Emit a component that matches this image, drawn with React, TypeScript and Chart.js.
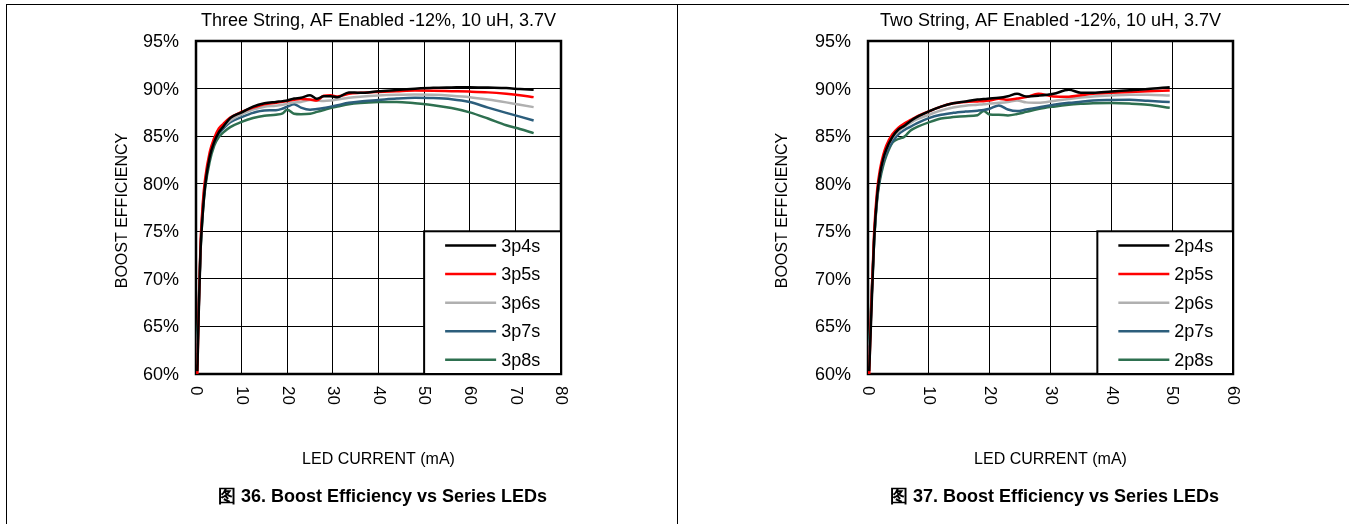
import React, { useEffect, useRef } from "react";
import { Chart, registerables } from "chart.js";
Chart.register(...registerables);

// ---------- data ----------
const threeStringCurrent = [0.3, 0.6, 1, 1.5, 2, 3, 4, 5, 6, 7.5, 10, 12.5, 15, 17.5, 19, 20, 21.5, 23, 25, 26.5, 28, 29.5, 31, 33.5, 36, 40, 44, 48, 52, 56, 60, 64, 68, 71, 74];
const eff3p4s = [60.3, 66.5, 73, 77, 79.8, 82.8, 84.4, 85.4, 86.0, 86.9, 87.5, 88.1, 88.45, 88.6, 88.68, 88.75, 88.95, 89.03, 89.3, 88.93, 89.2, 89.2, 89.1, 89.6, 89.55, 89.72, 89.85, 89.98, 90.08, 90.12, 90.15, 90.1, 90.05, 89.95, 89.87];
const eff3p5s = [60, 67, 73.8, 78, 80.5, 83.3, 84.8, 85.8, 86.3, 86.95, 87.55, 88.0, 88.35, 88.5, 88.6, 88.7, 88.82, 88.9, 88.85, 88.75, 89.25, 89.3, 89.17, 89.45, 89.55, 89.65, 89.73, 89.8, 89.78, 89.73, 89.68, 89.6, 89.45, 89.3, 89.1];
const eff3p6s = [61, 66.5, 73.5, 77.8, 80.3, 83.0, 84.6, 85.5, 86.0, 86.65, 87.3, 87.8, 88.1, 88.2, 88.3, 88.4, 88.55, 88.6, 88.8, 88.75, 88.7, 88.75, 88.85, 89.03, 89.15, 89.28, 89.35, 89.38, 89.35, 89.25, 89.1, 88.85, 88.55, 88.3, 88.05];
const eff3p7s = [62.2, 67, 73.3, 77.5, 80, 82.8, 84.4, 85.3, 85.8, 86.47, 87.0, 87.45, 87.7, 87.72, 87.9, 88.1, 88.35, 88.0, 87.78, 87.85, 87.95, 88.1, 88.25, 88.5, 88.65, 88.8, 88.95, 89.03, 89.0, 88.88, 88.58, 88.0, 87.45, 87.05, 86.65];
const eff3p8s = [63.2, 67.5, 73, 77, 79.5, 82.3, 84.0, 84.9, 85.4, 85.95, 86.5, 86.9, 87.15, 87.25, 87.4, 87.77, 87.35, 87.3, 87.35, 87.55, 87.75, 87.95, 88.1, 88.35, 88.48, 88.58, 88.6, 88.45, 88.25, 87.95, 87.5, 86.85, 86.15, 85.75, 85.32];
const threeStringLabels = ["3p4s", "3p5s", "3p6s", "3p7s", "3p8s"];

const twoStringCurrent = [0.2, 0.5, 1, 1.5, 2, 2.5, 3, 4, 5, 6, 7, 8, 10, 12, 14, 16, 18, 19, 20, 21.5, 23, 24.5, 26, 28, 30.5, 33, 35, 37, 40, 43, 46, 49.6];
const eff2p4s = [60.3, 65.5, 74, 78.7, 81.1, 82.6, 83.6, 84.9, 85.7, 86.1, 86.6, 87.0, 87.6, 88.1, 88.45, 88.65, 88.85, 88.9, 88.95, 89.03, 89.2, 89.45, 89.17, 89.25, 89.45, 89.87, 89.56, 89.56, 89.7, 89.82, 89.95, 90.15];
const eff2p5s = [60, 66.5, 74.8, 79.3, 81.6, 83.0, 84.0, 85.2, 85.9, 86.35, 86.7, 87.05, 87.6, 88.1, 88.45, 88.6, 88.65, 88.68, 88.75, 88.93, 88.82, 88.95, 89.1, 89.45, 89.17, 89.15, 89.3, 89.45, 89.55, 89.65, 89.72, 89.8];
const eff2p6s = [60.8, 66, 74.3, 78.8, 81.2, 82.6, 83.6, 84.8, 85.5, 86.0, 86.4, 86.75, 87.25, 87.7, 88.0, 88.2, 88.3, 88.35, 88.42, 88.5, 88.6, 88.75, 88.55, 88.5, 88.7, 88.9, 89.05, 89.17, 89.28, 89.36, 89.35, 89.28];
const eff2p7s = [62, 66.5, 74, 78.5, 80.8, 82.2, 83.2, 84.4, 85.2, 85.65, 86.0, 86.35, 86.9, 87.25, 87.45, 87.58, 87.68, 87.75, 87.88, 88.23, 87.8, 87.63, 87.8, 88.02, 88.3, 88.5, 88.62, 88.75, 88.8, 88.82, 88.72, 88.58];
const eff2p8s = [63, 67, 73.8, 78.3, 80.5, 81.9, 82.9, 84.3, 84.7, 84.95, 85.6, 85.95, 86.45, 86.85, 87.0, 87.1, 87.2, 87.63, 87.28, 87.25, 87.18, 87.32, 87.55, 87.85, 88.1, 88.3, 88.4, 88.47, 88.48, 88.42, 88.3, 87.98];
const twoStringLabels = ["2p4s", "2p5s", "2p6s", "2p7s", "2p8s"];

const yTickValues = [60, 65, 70, 75, 80, 85, 90, 95];
const yTickLabels = ["60%", "65%", "70%", "75%", "80%", "85%", "90%", "95%"];
const xTicksThree = [0, 10, 20, 30, 40, 50, 60, 70, 80];
const xTicksTwo = [0, 10, 20, 30, 40, 50, 60];

const seriesColors = ["#000000", "#FF0000", "#B0B0B0", "#2C5E7C", "#2E7050"];

const FONT = '"Liberation Sans", Arial, Helvetica, sans-serif';

type Panel = {
  title: string;
  caption: string;
  x: number[];
  series: number[][];
  labels: string[];
  xTicks: number[];
  xMax: number;
  legendFrom: number;
  canvasLeft: number;
  canvasWidth: number;
  padLeft: number;
  padRight: number;
  yTitleX: number;
};

const panels: Panel[] = [
  {
    title: "Three String, AF Enabled -12%, 10 uH, 3.7V",
    caption: "图 36. Boost Efficiency vs Series LEDs",
    x: threeStringCurrent,
    series: [eff3p4s, eff3p5s, eff3p6s, eff3p7s, eff3p8s],
    labels: threeStringLabels,
    xTicks: xTicksThree,
    xMax: 80,
    legendFrom: 50,
    canvasLeft: 0,
    canvasWidth: 677,
    padLeft: 196,
    padRight: 116,
    yTitleX: 123,
  },
  {
    title: "Two String, AF Enabled -12%, 10 uH, 3.7V",
    caption: "图 37. Boost Efficiency vs Series LEDs",
    x: twoStringCurrent,
    series: [eff2p4s, eff2p5s, eff2p6s, eff2p7s, eff2p8s],
    labels: twoStringLabels,
    xTicks: xTicksTwo,
    xMax: 60,
    legendFrom: 37.7,
    canvasLeft: 677,
    canvasWidth: 672,
    padLeft: 191,
    padRight: 116,
    yTitleX: 106,
  },
];

const CANVAS_H = 524;
const PAD_TOP = 41;
const PAD_BOTTOM = 150;

function makePlugin(p: Panel) {
  return {
    id: "decor",
    beforeDatasetsDraw(chart: any) {
      const { ctx, chartArea: a } = chart;
      ctx.save();
      ctx.strokeStyle = "#000";
      ctx.lineWidth = 2.5;
      ctx.strokeRect(a.left, a.top, a.right - a.left, a.bottom - a.top);
      ctx.restore();
    },
    afterDatasetsDraw(chart: any) {
      const { ctx, chartArea: a } = chart;
      const xs = chart.scales.x;
      const ys = chart.scales.y;
      const l = xs.getPixelForValue(p.legendFrom);
      const t = ys.getPixelForValue(75);
      const r = a.right;
      const b = a.bottom;
      ctx.save();
      ctx.fillStyle = "#fff";
      ctx.fillRect(l, t, r - l, b - t);
      ctx.strokeStyle = "#000";
      ctx.lineWidth = 2;
      ctx.strokeRect(l, t, r - l, b - t);
      const rowH = (b - t) / p.labels.length;
      p.labels.forEach((lab, i) => {
        const cy = t + rowH * (i + 0.5);
        ctx.strokeStyle = seriesColors[i];
        ctx.lineWidth = 2.5;
        ctx.beginPath();
        ctx.moveTo(l + 21, cy);
        ctx.lineTo(l + 72, cy);
        ctx.stroke();
        ctx.fillStyle = "#000";
        ctx.font = `18px ${FONT}`;
        ctx.textAlign = "left";
        ctx.textBaseline = "middle";
        ctx.fillText(lab, l + 77, cy + 1);
      });
      ctx.restore();
    },
    afterDraw(chart: any) {
      const { ctx, chartArea: a } = chart;
      const xs = chart.scales.x;
      const ys = chart.scales.y;
      const cx = (a.left + a.right) / 2;
      ctx.save();
      ctx.fillStyle = "#000";
      // y tick labels
      ctx.font = `18px ${FONT}`;
      ctx.textAlign = "right";
      ctx.textBaseline = "middle";
      yTickValues.forEach((v, i) => {
        ctx.fillText(yTickLabels[i], a.left - 17, ys.getPixelForValue(v) + 1);
      });
      // x tick labels, rotated clockwise
      ctx.font = `17px ${FONT}`;
      ctx.textAlign = "left";
      p.xTicks.forEach((v) => {
        ctx.save();
        ctx.translate(xs.getPixelForValue(v), a.bottom + 12);
        ctx.rotate(Math.PI / 2);
        ctx.fillText(String(v), 0, 0);
        ctx.restore();
      });
      // chart title
      ctx.font = `18px ${FONT}`;
      ctx.textAlign = "center";
      ctx.fillText(p.title, cx, 21);
      // y axis title
      ctx.save();
      ctx.translate(p.yTitleX, (a.top + a.bottom) / 2 + 3);
      ctx.rotate(-Math.PI / 2);
      ctx.font = `16px ${FONT}`;
      ctx.fillText("BOOST EFFICIENCY", 0, 0);
      ctx.restore();
      // x axis title
      ctx.font = `16px ${FONT}`;
      ctx.fillText("LED CURRENT (mA)", cx, 460);
      // caption
      ctx.font = `bold 18px ${FONT}`;
      ctx.fillText(p.caption, cx + 4, 497);
      ctx.restore();
    },
  };
}

function PanelChart({ p }: { p: Panel }) {
  const ref = useRef<HTMLCanvasElement | null>(null);
  useEffect(() => {
    if (!ref.current) return;
    const chart = new Chart(ref.current, {
      type: "line",
      data: {
        datasets: p.series.map((s, i) => ({
          label: p.labels[i],
          data: p.x.map((x, j) => ({ x, y: s[j] })),
          borderColor: seriesColors[i],
          backgroundColor: seriesColors[i],
          borderWidth: 2.5,
          pointRadius: 0,
          fill: false,
          cubicInterpolationMode: "monotone",
        })),
      },
      options: {
        animation: false,
        responsive: false,
        maintainAspectRatio: false,
        events: [],
        layout: {
          padding: { left: p.padLeft, right: p.padRight, top: PAD_TOP, bottom: PAD_BOTTOM },
        },
        plugins: {
          legend: { display: false },
          tooltip: { enabled: false },
          title: { display: false },
        },
        scales: {
          x: {
            type: "linear",
            min: 0,
            max: p.xMax,
            ticks: { display: false, stepSize: 10 },
            grid: { color: "#000", lineWidth: 1, drawTicks: false },
            border: { display: false },
            afterFit: (s: any) => {
              s.height = 0;
            },
          },
          y: {
            type: "linear",
            min: 60,
            max: 95,
            ticks: { display: false, stepSize: 5 },
            grid: { color: "#000", lineWidth: 1, drawTicks: false },
            border: { display: false },
            afterFit: (s: any) => {
              s.width = 0;
            },
          },
        },
      } as any,
      plugins: [makePlugin(p)],
    });
    return () => chart.destroy();
  }, [p]);
  return (
    <canvas
      ref={ref}
      width={p.canvasWidth}
      height={CANVAS_H}
      style={{ position: "absolute", left: p.canvasLeft, top: 0, width: p.canvasWidth, height: CANVAS_H, display: "block" }}
    />
  );
}

export default function App() {
  return (
    <div style={{ position: "absolute", left: 0, top: 0, width: 1349, height: 524, background: "#fff", overflow: "hidden" }}>
      {panels.map((p, i) => (
        <PanelChart key={i} p={p} />
      ))}
      <div style={{ position: "absolute", left: 6, top: 4, width: 1343, height: 1, background: "#000" }} />
      <div style={{ position: "absolute", left: 6, top: 4, width: 1, height: 520, background: "#000" }} />
      <div style={{ position: "absolute", left: 677, top: 4, width: 1, height: 520, background: "#000" }} />
    </div>
  );
}
